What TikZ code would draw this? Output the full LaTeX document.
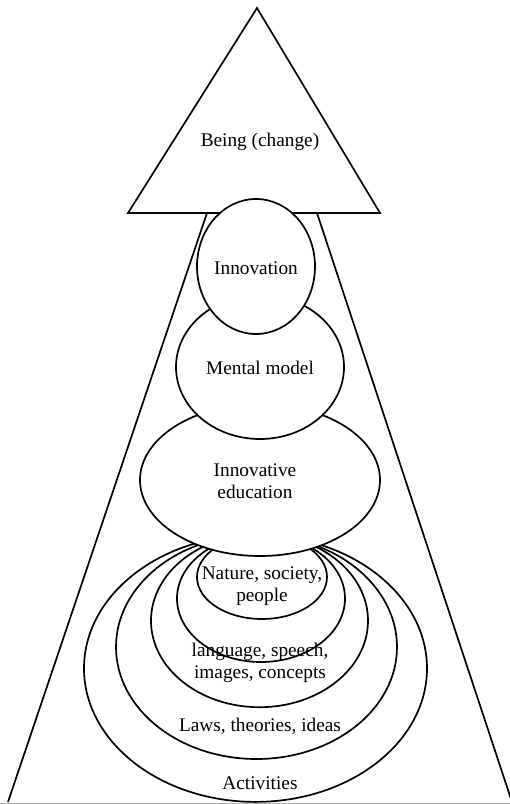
\documentclass[tikz,border=0pt]{standalone}
\usepackage{fontspec}
\setmainfont{Liberation Serif}
\usetikzlibrary{shapes.geometric}
\begin{document}
\begin{tikzpicture}[x=1pt,y=-1pt,
  line width=1.7pt,
  ell/.style={ellipse,draw=black,fill=white,inner sep=0pt,outer sep=0pt},
  lbl/.style={font=\fontsize{19.3pt}{22pt}\selectfont,align=center,inner sep=0pt}]
\useasboundingbox (0,0) rectangle (510,804);
\fill[white] (0,0) rectangle (510,804);
% triangle corners
\coordinate (apex) at (257,8);
\coordinate (bl) at (128,213);
\coordinate (br) at (380,213);
% trapezoid sides
\coordinate (tl) at (207,213);
\coordinate (tr) at (317,213);
\coordinate (el) at (8,802);
\coordinate (er) at (512,802);
\draw (tl) -- (el);
\draw (tr) -- (er);
% nested ellipses at the bottom
\node[ell,minimum width=343pt,minimum height=267pt] (act) at (255.5,668.4) {};
\node[ell,minimum width=281pt,minimum height=224pt] (laws) at (256.5,647) {};
\node[ell,minimum width=217pt,minimum height=173pt] (lang) at (259.5,620.7) {};
\node[ell,minimum width=168pt,minimum height=127pt] (lang2) at (261,598.5) {};
\node[ell,minimum width=130pt,minimum height=84pt] (nat) at (262,577) {};
% middle ellipses
\node[ell,minimum width=240pt,minimum height=152pt] (edu) at (260,480) {};
\node[ell,minimum width=168pt,minimum height=144pt] (mm) at (260,367) {};
% triangle
\draw[fill=white,line join=miter] (apex) -- (br) -- (bl) -- cycle;
\node[ell,minimum width=118pt,minimum height=135pt] (inn) at (256,266.5) {};
% texts
\node[lbl] (tbeing) at (260,142) {Being (change)};
\node[lbl] (tinn) at (256,268) {Innovation};
\node[lbl] (tmm) at (260,368) {Mental model};
\node[lbl] (tedu) at (255,481) {Innovative\\education};
\node[lbl] (tnat) at (262,586) {Nature, society,\\people};
\node[lbl] (tlang) at (260,663) {language, speech,\\images, concepts};
\node[lbl] (tlaws) at (260,726) {Laws, theories, ideas};
\node[lbl] (tact) at (260,783) {Activities};
% bottom border line
\draw[gray!60,line width=1pt] (0,803.5) -- (510,803.5);
\end{tikzpicture}
\end{document}
